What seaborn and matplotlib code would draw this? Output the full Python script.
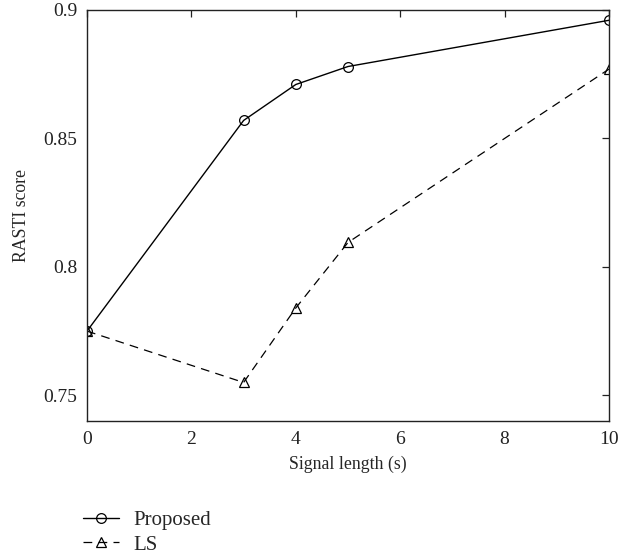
import matplotlib
matplotlib.use("Agg")
import matplotlib.pyplot as plt
import seaborn as sns
import pandas as pd

signal_length = [0, 3, 4, 5, 10]
proposed = [0.775, 0.857, 0.871, 0.878, 0.896]
ls = [0.775, 0.755, 0.784, 0.8095, 0.877]
x_ticks = [0, 2, 4, 6, 8, 10]
y_ticks = [0.75, 0.8, 0.85, 0.9]
y_tick_labels = ["0.75", "0.8", "0.85", "0.9"]

sns.set_style("white")
plt.rcParams['font.family'] = ['Liberation Serif', 'DejaVu Serif']

df_p = pd.DataFrame({"x": signal_length, "y": proposed})
df_l = pd.DataFrame({"x": signal_length, "y": ls})

fig = plt.figure(figsize=(6.19, 5.56), dpi=100)
ax = fig.add_axes([87/619, 1-421/556, (609-87)/619, (421-10)/556])

sns.lineplot(data=df_p, x="x", y="y", ax=ax, color="black", lw=1.0,
             marker="o", markersize=7, markerfacecolor="none",
             markeredgecolor="black", markeredgewidth=0.9, label="Proposed")
sns.lineplot(data=df_l, x="x", y="y", ax=ax, color="black", lw=0.9,
             linestyle=(0, (7, 5)), marker="^", markersize=7.5,
             markerfacecolor="none", markeredgecolor="black",
             markeredgewidth=0.9, label="LS")

ax.set_xlim(0, 10)
ax.set_ylim(0.74, 0.9)
ax.set_xticks(x_ticks)
ax.set_xticklabels([str(t) for t in x_ticks])
ax.set_yticks(y_ticks)
ax.set_yticklabels(y_tick_labels)
ax.tick_params(direction="in", length=5, width=0.9, top=True, right=True,
               labelsize=14, colors="#222222", pad=7)
for s in ax.spines.values():
    s.set_color("#222222")
    s.set_linewidth(1.0)
ax.set_xlabel("Signal length (s)", fontsize=12.8, labelpad=6)
ax.set_ylabel("RASTI score", fontsize=12.8, labelpad=10)

handles, labels = ax.get_legend_handles_labels()
ax.get_legend().remove()
fig.legend(handles, labels, loc="upper left", bbox_to_anchor=(75/619, 1-502/556),
           frameon=False, fontsize=15, handlelength=1.7, labelspacing=0.25,
           handletextpad=0.7, borderaxespad=0)

fig.savefig("out.png", dpi=100)
